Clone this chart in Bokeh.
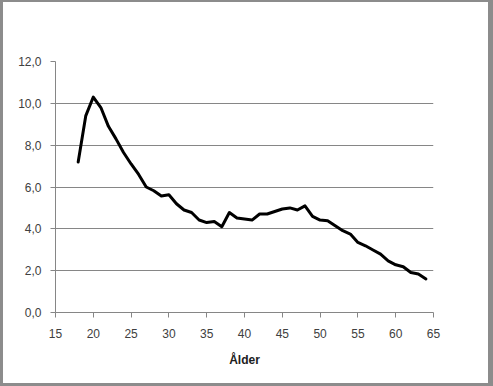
from bokeh.plotting import figure
from bokeh.models import Range1d, FixedTicker, ColumnDataSource
from bokeh.embed import file_html
from bokeh.resources import INLINE

ages = list(range(18, 65))
values = [7.2, 9.4, 10.3, 9.8, 8.9, 8.3, 7.65, 7.1, 6.6, 6.0,
          5.82, 5.57, 5.63, 5.2, 4.9, 4.78, 4.42, 4.3, 4.35, 4.1,
          4.78, 4.52, 4.47, 4.42, 4.71, 4.71, 4.83, 4.95, 5.0, 4.9,
          5.1, 4.6, 4.42, 4.39, 4.15, 3.91, 3.75, 3.35, 3.19, 2.99,
          2.79, 2.47, 2.28, 2.19, 1.91, 1.84, 1.6]

x_ticks = [15, 20, 25, 30, 35, 40, 45, 50, 55, 60, 65]
y_ticks = [0, 2, 4, 6, 8, 10, 12]
y_tick_labels = ["0,0", "2,0", "4,0", "6,0", "8,0", "10,0", "12,0"]
grid_ticks = [2, 4, 6, 8, 10]
x_title = "Ålder"

src = ColumnDataSource(data=dict(age=ages, val=values))

p = figure(width=493, height=386, output_backend="svg", toolbar_location=None,
           x_range=Range1d(15, 65), y_range=Range1d(0, 12),
           min_border_left=55, min_border_right=60, min_border_top=61, min_border_bottom=74)
p.outline_line_color = None
p.background_fill_color = "white"
p.border_fill_color = None

GRAY = "#868686"
TXT = "#404040"
FONT = "Liberation Sans"

p.line("age", "val", source=src, line_color="black", line_width=3,
       line_join="round", line_cap="round")

p.xaxis.ticker = FixedTicker(ticks=x_ticks)
p.yaxis.ticker = FixedTicker(ticks=y_ticks)
p.yaxis.major_label_overrides = {t: l for t, l in zip(y_ticks, y_tick_labels)}
p.xgrid.visible = False
p.ygrid.ticker = FixedTicker(ticks=grid_ticks)
p.ygrid.grid_line_color = GRAY
p.ygrid.grid_line_width = 1

for ax in (p.xaxis[0], p.yaxis[0]):
    ax.axis_line_color = GRAY
    ax.major_tick_line_color = GRAY
    ax.major_tick_out = 5
    ax.major_tick_in = 0
    ax.minor_tick_line_color = None
    ax.major_label_text_font = FONT
    ax.major_label_text_font_size = "12px"
    ax.major_label_text_color = TXT

p.yaxis.major_label_standoff = 9
p.xaxis.major_label_standoff = 11
p.xaxis.axis_label = x_title
p.xaxis.axis_label_text_font = FONT
p.xaxis.axis_label_text_font_size = "12px"
p.xaxis.axis_label_text_font_style = "bold"
p.xaxis.axis_label_text_color = "#202020"
p.xaxis.axis_label_standoff = 12

p.styles = {"background-color": "white",
            "box-shadow": "inset 3px 2px 0 0 #8c8c8c, inset -5px -3px 0 0 #8c8c8c"}

open("out.html", "w").write(file_html(p, INLINE))
